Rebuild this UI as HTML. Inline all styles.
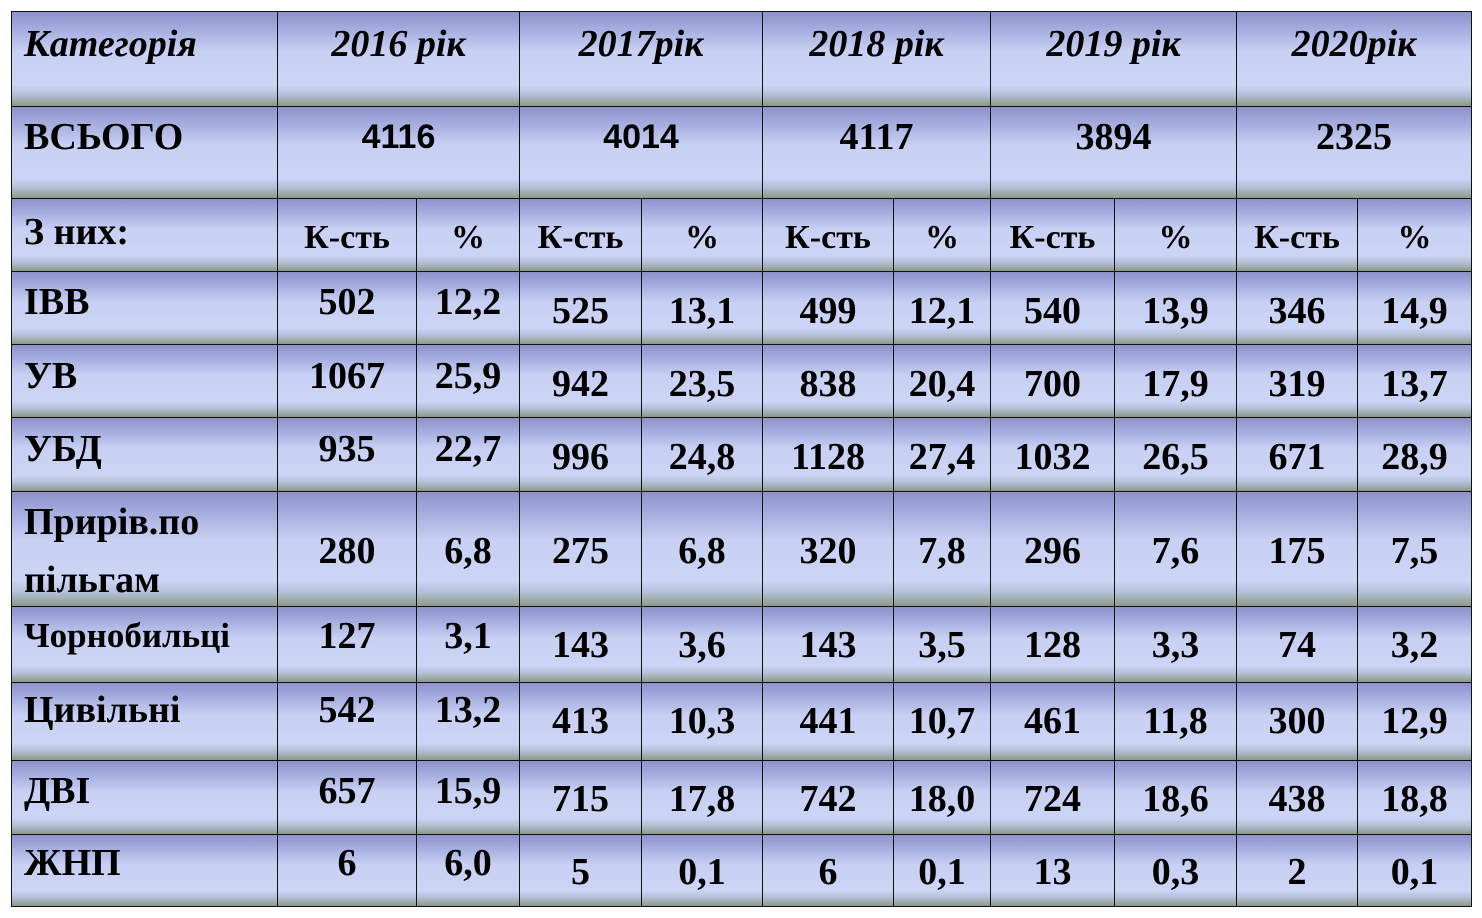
<!DOCTYPE html>
<html><head><meta charset="utf-8"><style>
body{margin:0;width:1482px;height:918px;background:#fff;position:relative;overflow:hidden;font-family:"Liberation Serif",serif;font-weight:bold;color:#000}
.c{position:absolute;box-sizing:border-box;border:1.5px solid #111;background:linear-gradient(to bottom,#8d92cb 0%,#aab2e2 22%,#c8d0f3 42%,#ccd5f5 78%,#b4c0d8 88%,#8a9a88 100%)}
.t{position:absolute;text-align:center;line-height:42px;font-size:38px;white-space:nowrap}
.l{position:absolute;left:24px;line-height:42px;font-size:38px;white-space:nowrap}
.i{font-style:italic}
.s{font-family:"Liberation Sans",sans-serif;font-size:34px}
</style></head><body>
<!-- header -->
<div class="c" style="left:11px;top:11px;width:267px;height:96px"></div>
<div class="c" style="left:277px;top:11px;width:243px;height:96px"></div>
<div class="c" style="left:519px;top:11px;width:244px;height:96px"></div>
<div class="c" style="left:762px;top:11px;width:229px;height:96px"></div>
<div class="c" style="left:990px;top:11px;width:247px;height:96px"></div>
<div class="c" style="left:1236px;top:11px;width:236px;height:96px"></div>
<div class="l i" style="top:23px">Категорія</div>
<div class="t i" style="left:277px;width:243px;top:23px">2016 рік</div>
<div class="t i" style="left:519px;width:244px;top:23px">2017рік</div>
<div class="t i" style="left:762px;width:229px;top:23px">2018 рік</div>
<div class="t i" style="left:990px;width:247px;top:23px">2019 рік</div>
<div class="t i" style="left:1236px;width:236px;top:23px">2020рік</div>
<!-- total -->
<div class="c" style="left:11px;top:106px;width:267px;height:93px"></div>
<div class="c" style="left:277px;top:106px;width:243px;height:93px"></div>
<div class="c" style="left:519px;top:106px;width:244px;height:93px"></div>
<div class="c" style="left:762px;top:106px;width:229px;height:93px"></div>
<div class="c" style="left:990px;top:106px;width:247px;height:93px"></div>
<div class="c" style="left:1236px;top:106px;width:236px;height:93px"></div>
<div class="l" style="top:116px">ВСЬОГО</div>
<div class="t s" style="left:277px;width:243px;top:116px">4116</div>
<div class="t s" style="left:519px;width:244px;top:116px">4014</div>
<div class="t" style="left:762px;width:229px;top:116px">4117</div>
<div class="t" style="left:990px;width:247px;top:116px">3894</div>
<div class="t" style="left:1236px;width:236px;top:116px">2325</div>
<!-- subheader -->
<div class="c" style="left:11px;top:198px;width:267px;height:74px"></div>
<div class="c" style="left:277px;top:198px;width:140px;height:74px"></div>
<div class="c" style="left:416px;top:198px;width:104px;height:74px"></div>
<div class="c" style="left:519px;top:198px;width:123px;height:74px"></div>
<div class="c" style="left:641px;top:198px;width:122px;height:74px"></div>
<div class="c" style="left:762px;top:198px;width:132px;height:74px"></div>
<div class="c" style="left:893px;top:198px;width:98px;height:74px"></div>
<div class="c" style="left:990px;top:198px;width:125px;height:74px"></div>
<div class="c" style="left:1114px;top:198px;width:123px;height:74px"></div>
<div class="c" style="left:1236px;top:198px;width:122px;height:74px"></div>
<div class="c" style="left:1357px;top:198px;width:115px;height:74px"></div>
<div class="l" style="top:211px">З них:</div>
<div class="t" style="left:277px;width:140px;top:217px;font-size:34px">К-сть</div>
<div class="t" style="left:416px;width:104px;top:217px;font-size:34px">%</div>
<div class="t" style="left:519px;width:123px;top:217px;font-size:34px">К-сть</div>
<div class="t" style="left:641px;width:122px;top:217px;font-size:34px">%</div>
<div class="t" style="left:762px;width:132px;top:217px;font-size:34px">К-сть</div>
<div class="t" style="left:893px;width:98px;top:217px;font-size:34px">%</div>
<div class="t" style="left:990px;width:125px;top:217px;font-size:34px">К-сть</div>
<div class="t" style="left:1114px;width:123px;top:217px;font-size:34px">%</div>
<div class="t" style="left:1236px;width:122px;top:217px;font-size:34px">К-сть</div>
<div class="t" style="left:1357px;width:115px;top:217px;font-size:34px">%</div>

<!-- data rows: cells -->
<div class="c" style="left:11px;top:271px;width:267px;height:74px"></div><div class="c" style="left:277px;top:271px;width:140px;height:74px"></div><div class="c" style="left:416px;top:271px;width:104px;height:74px"></div><div class="c" style="left:519px;top:271px;width:123px;height:74px"></div><div class="c" style="left:641px;top:271px;width:122px;height:74px"></div><div class="c" style="left:762px;top:271px;width:132px;height:74px"></div><div class="c" style="left:893px;top:271px;width:98px;height:74px"></div><div class="c" style="left:990px;top:271px;width:125px;height:74px"></div><div class="c" style="left:1114px;top:271px;width:123px;height:74px"></div><div class="c" style="left:1236px;top:271px;width:122px;height:74px"></div><div class="c" style="left:1357px;top:271px;width:115px;height:74px"></div>
<div class="c" style="left:11px;top:344px;width:267px;height:74px"></div><div class="c" style="left:277px;top:344px;width:140px;height:74px"></div><div class="c" style="left:416px;top:344px;width:104px;height:74px"></div><div class="c" style="left:519px;top:344px;width:123px;height:74px"></div><div class="c" style="left:641px;top:344px;width:122px;height:74px"></div><div class="c" style="left:762px;top:344px;width:132px;height:74px"></div><div class="c" style="left:893px;top:344px;width:98px;height:74px"></div><div class="c" style="left:990px;top:344px;width:125px;height:74px"></div><div class="c" style="left:1114px;top:344px;width:123px;height:74px"></div><div class="c" style="left:1236px;top:344px;width:122px;height:74px"></div><div class="c" style="left:1357px;top:344px;width:115px;height:74px"></div>
<div class="c" style="left:11px;top:417px;width:267px;height:75px"></div><div class="c" style="left:277px;top:417px;width:140px;height:75px"></div><div class="c" style="left:416px;top:417px;width:104px;height:75px"></div><div class="c" style="left:519px;top:417px;width:123px;height:75px"></div><div class="c" style="left:641px;top:417px;width:122px;height:75px"></div><div class="c" style="left:762px;top:417px;width:132px;height:75px"></div><div class="c" style="left:893px;top:417px;width:98px;height:75px"></div><div class="c" style="left:990px;top:417px;width:125px;height:75px"></div><div class="c" style="left:1114px;top:417px;width:123px;height:75px"></div><div class="c" style="left:1236px;top:417px;width:122px;height:75px"></div><div class="c" style="left:1357px;top:417px;width:115px;height:75px"></div>
<div class="c" style="left:11px;top:491px;width:267px;height:116px"></div><div class="c" style="left:277px;top:491px;width:140px;height:116px"></div><div class="c" style="left:416px;top:491px;width:104px;height:116px"></div><div class="c" style="left:519px;top:491px;width:123px;height:116px"></div><div class="c" style="left:641px;top:491px;width:122px;height:116px"></div><div class="c" style="left:762px;top:491px;width:132px;height:116px"></div><div class="c" style="left:893px;top:491px;width:98px;height:116px"></div><div class="c" style="left:990px;top:491px;width:125px;height:116px"></div><div class="c" style="left:1114px;top:491px;width:123px;height:116px"></div><div class="c" style="left:1236px;top:491px;width:122px;height:116px"></div><div class="c" style="left:1357px;top:491px;width:115px;height:116px"></div>
<div class="c" style="left:11px;top:606px;width:267px;height:77px"></div><div class="c" style="left:277px;top:606px;width:140px;height:77px"></div><div class="c" style="left:416px;top:606px;width:104px;height:77px"></div><div class="c" style="left:519px;top:606px;width:123px;height:77px"></div><div class="c" style="left:641px;top:606px;width:122px;height:77px"></div><div class="c" style="left:762px;top:606px;width:132px;height:77px"></div><div class="c" style="left:893px;top:606px;width:98px;height:77px"></div><div class="c" style="left:990px;top:606px;width:125px;height:77px"></div><div class="c" style="left:1114px;top:606px;width:123px;height:77px"></div><div class="c" style="left:1236px;top:606px;width:122px;height:77px"></div><div class="c" style="left:1357px;top:606px;width:115px;height:77px"></div>
<div class="c" style="left:11px;top:682px;width:267px;height:79px"></div><div class="c" style="left:277px;top:682px;width:140px;height:79px"></div><div class="c" style="left:416px;top:682px;width:104px;height:79px"></div><div class="c" style="left:519px;top:682px;width:123px;height:79px"></div><div class="c" style="left:641px;top:682px;width:122px;height:79px"></div><div class="c" style="left:762px;top:682px;width:132px;height:79px"></div><div class="c" style="left:893px;top:682px;width:98px;height:79px"></div><div class="c" style="left:990px;top:682px;width:125px;height:79px"></div><div class="c" style="left:1114px;top:682px;width:123px;height:79px"></div><div class="c" style="left:1236px;top:682px;width:122px;height:79px"></div><div class="c" style="left:1357px;top:682px;width:115px;height:79px"></div>
<div class="c" style="left:11px;top:760px;width:267px;height:75px"></div><div class="c" style="left:277px;top:760px;width:140px;height:75px"></div><div class="c" style="left:416px;top:760px;width:104px;height:75px"></div><div class="c" style="left:519px;top:760px;width:123px;height:75px"></div><div class="c" style="left:641px;top:760px;width:122px;height:75px"></div><div class="c" style="left:762px;top:760px;width:132px;height:75px"></div><div class="c" style="left:893px;top:760px;width:98px;height:75px"></div><div class="c" style="left:990px;top:760px;width:125px;height:75px"></div><div class="c" style="left:1114px;top:760px;width:123px;height:75px"></div><div class="c" style="left:1236px;top:760px;width:122px;height:75px"></div><div class="c" style="left:1357px;top:760px;width:115px;height:75px"></div>
<div class="c" style="left:11px;top:834px;width:267px;height:73px"></div><div class="c" style="left:277px;top:834px;width:140px;height:73px"></div><div class="c" style="left:416px;top:834px;width:104px;height:73px"></div><div class="c" style="left:519px;top:834px;width:123px;height:73px"></div><div class="c" style="left:641px;top:834px;width:122px;height:73px"></div><div class="c" style="left:762px;top:834px;width:132px;height:73px"></div><div class="c" style="left:893px;top:834px;width:98px;height:73px"></div><div class="c" style="left:990px;top:834px;width:125px;height:73px"></div><div class="c" style="left:1114px;top:834px;width:123px;height:73px"></div><div class="c" style="left:1236px;top:834px;width:122px;height:73px"></div><div class="c" style="left:1357px;top:834px;width:115px;height:73px"></div>

<!-- data text -->
<div class="l" style="top:281px">ІВВ</div>
<div class="t" style="left:277px;width:140px;top:281px">502</div><div class="t" style="left:416px;width:104px;top:281px">12,2</div>
<div class="t" style="left:519px;width:123px;top:290px">525</div><div class="t" style="left:641px;width:122px;top:290px">13,1</div>
<div class="t" style="left:762px;width:132px;top:290px">499</div><div class="t" style="left:893px;width:98px;top:290px">12,1</div>
<div class="t" style="left:990px;width:125px;top:290px">540</div><div class="t" style="left:1114px;width:123px;top:290px">13,9</div>
<div class="t" style="left:1236px;width:122px;top:290px">346</div><div class="t" style="left:1357px;width:115px;top:290px">14,9</div>

<div class="l" style="top:355px">УВ</div>
<div class="t" style="left:277px;width:140px;top:355px">1067</div><div class="t" style="left:416px;width:104px;top:355px">25,9</div>
<div class="t" style="left:519px;width:123px;top:363px">942</div><div class="t" style="left:641px;width:122px;top:363px">23,5</div>
<div class="t" style="left:762px;width:132px;top:363px">838</div><div class="t" style="left:893px;width:98px;top:363px">20,4</div>
<div class="t" style="left:990px;width:125px;top:363px">700</div><div class="t" style="left:1114px;width:123px;top:363px">17,9</div>
<div class="t" style="left:1236px;width:122px;top:363px">319</div><div class="t" style="left:1357px;width:115px;top:363px">13,7</div>

<div class="l" style="top:428px">УБД</div>
<div class="t" style="left:277px;width:140px;top:428px">935</div><div class="t" style="left:416px;width:104px;top:428px">22,7</div>
<div class="t" style="left:519px;width:123px;top:436px">996</div><div class="t" style="left:641px;width:122px;top:436px">24,8</div>
<div class="t" style="left:762px;width:132px;top:436px">1128</div><div class="t" style="left:893px;width:98px;top:436px">27,4</div>
<div class="t" style="left:990px;width:125px;top:436px">1032</div><div class="t" style="left:1114px;width:123px;top:436px">26,5</div>
<div class="t" style="left:1236px;width:122px;top:436px">671</div><div class="t" style="left:1357px;width:115px;top:436px">28,9</div>

<div class="l" style="top:501px">Прирів.по</div>
<div class="l" style="top:559px">пільгам</div>
<div class="t" style="left:277px;width:140px;top:530px">280</div><div class="t" style="left:416px;width:104px;top:530px">6,8</div>
<div class="t" style="left:519px;width:123px;top:530px">275</div><div class="t" style="left:641px;width:122px;top:530px">6,8</div>
<div class="t" style="left:762px;width:132px;top:530px">320</div><div class="t" style="left:893px;width:98px;top:530px">7,8</div>
<div class="t" style="left:990px;width:125px;top:530px">296</div><div class="t" style="left:1114px;width:123px;top:530px">7,6</div>
<div class="t" style="left:1236px;width:122px;top:530px">175</div><div class="t" style="left:1357px;width:115px;top:530px">7,5</div>

<div class="l" style="top:615px;font-size:35px">Чорнобильці</div>
<div class="t" style="left:277px;width:140px;top:615px">127</div><div class="t" style="left:416px;width:104px;top:615px">3,1</div>
<div class="t" style="left:519px;width:123px;top:624px">143</div><div class="t" style="left:641px;width:122px;top:624px">3,6</div>
<div class="t" style="left:762px;width:132px;top:624px">143</div><div class="t" style="left:893px;width:98px;top:624px">3,5</div>
<div class="t" style="left:990px;width:125px;top:624px">128</div><div class="t" style="left:1114px;width:123px;top:624px">3,3</div>
<div class="t" style="left:1236px;width:122px;top:624px">74</div><div class="t" style="left:1357px;width:115px;top:624px">3,2</div>

<div class="l" style="top:689px">Цивільні</div>
<div class="t" style="left:277px;width:140px;top:689px">542</div><div class="t" style="left:416px;width:104px;top:689px">13,2</div>
<div class="t" style="left:519px;width:123px;top:700px">413</div><div class="t" style="left:641px;width:122px;top:700px">10,3</div>
<div class="t" style="left:762px;width:132px;top:700px">441</div><div class="t" style="left:893px;width:98px;top:700px">10,7</div>
<div class="t" style="left:990px;width:125px;top:700px">461</div><div class="t" style="left:1114px;width:123px;top:700px">11,8</div>
<div class="t" style="left:1236px;width:122px;top:700px">300</div><div class="t" style="left:1357px;width:115px;top:700px">12,9</div>

<div class="l" style="top:770px">ДВІ</div>
<div class="t" style="left:277px;width:140px;top:770px">657</div><div class="t" style="left:416px;width:104px;top:770px">15,9</div>
<div class="t" style="left:519px;width:123px;top:778px">715</div><div class="t" style="left:641px;width:122px;top:778px">17,8</div>
<div class="t" style="left:762px;width:132px;top:778px">742</div><div class="t" style="left:893px;width:98px;top:778px">18,0</div>
<div class="t" style="left:990px;width:125px;top:778px">724</div><div class="t" style="left:1114px;width:123px;top:778px">18,6</div>
<div class="t" style="left:1236px;width:122px;top:778px">438</div><div class="t" style="left:1357px;width:115px;top:778px">18,8</div>

<div class="l" style="top:842px">ЖНП</div>
<div class="t" style="left:277px;width:140px;top:842px">6</div><div class="t" style="left:416px;width:104px;top:842px">6,0</div>
<div class="t" style="left:519px;width:123px;top:851px">5</div><div class="t" style="left:641px;width:122px;top:851px">0,1</div>
<div class="t" style="left:762px;width:132px;top:851px">6</div><div class="t" style="left:893px;width:98px;top:851px">0,1</div>
<div class="t" style="left:990px;width:125px;top:851px">13</div><div class="t" style="left:1114px;width:123px;top:851px">0,3</div>
<div class="t" style="left:1236px;width:122px;top:851px">2</div><div class="t" style="left:1357px;width:115px;top:851px">0,1</div>
</body></html>
